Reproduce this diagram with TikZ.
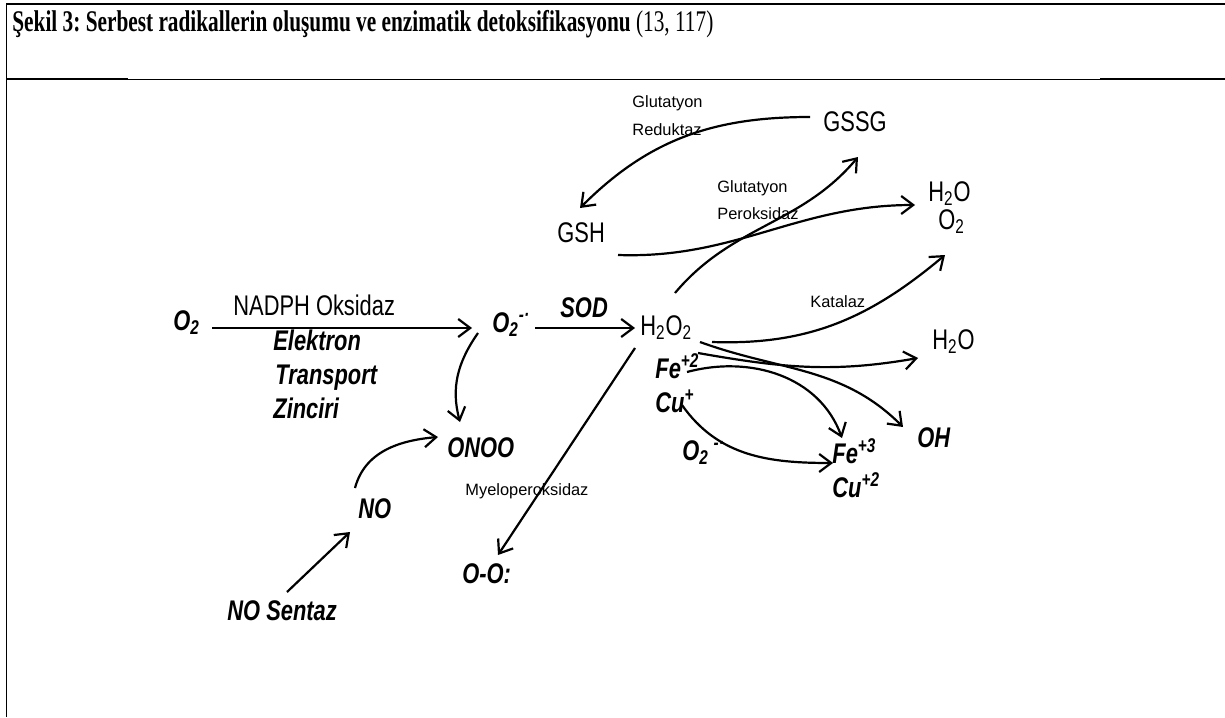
\documentclass[tikz,border=0pt]{standalone}
\usepackage{fontspec}
\setmainfont{Liberation Serif}[FakeStretch=0.71]
\setsansfont{Liberation Sans}[FakeStretch=0.77]
\newfontfamily\enzymefont{Liberation Sans}
\usetikzlibrary{arrows.meta}
\frenchspacing
\tikzset{%
  >={Straight Barb[length=6pt,width=9pt]},
  % Specifications for style of nodes:
      formula/.style = {inner sep=0pt, anchor=base west,
                        font=\sffamily\fontsize{14.2}{16}\selectfont},
      species/.style = {formula,
                        font=\sffamily\bfseries\itshape\fontsize{14.2}{16}\selectfont},
       enzyme/.style = {formula, font=\enzymefont\fontsize{8.2}{10}\selectfont},
     reaction/.style = {->, line width=1.1pt},
    cellRule/.style = {line width=0.35pt},
}

\begin{document}
\begin{tikzpicture}[x=0.5pt, y=-0.5pt]
  \useasboundingbox (0,0) rectangle (1225,717);

  % frame of the table cell
  \draw[line width=0.85pt] (6,4) -- (1225,4);
  \draw[line width=0.65pt] (6.5,4) -- (6.5,717);
  \draw[cellRule] (6.5,79) -- (1225,79);
  \draw[line width=1pt] (6.5,79) -- (128,79);
  \draw[line width=1pt] (1100,79) -- (1225,79);

  \node (title) [anchor=base west, inner sep=0pt, font=\fontsize{15}{17}\selectfont] at (12,32)
        {\textbf{Şekil 3: Serbest radikallerin oluşumu ve enzimatik detoksifikasyonu} (13, 117)};

  % Specification of nodes (position, etc.)
  \node (o2)         [species] at (173,330) {O\textsubscript{2}};
  \node (nadphOx)    [formula] at (233,315) {NADPH Oksidaz};
  \node (elektron)   [species] at (273,350) {Elektron};
  \node (transport)  [species] at (275,384) {Transport};
  \node (zinciri)    [species] at (273,418) {Zinciri};
  \node (superoxide) [species] at (492,332) {O\textsubscript{2}\textsuperscript{-·}};
  \node (sod)        [species] at (560,317) {SOD};
  \node (h2o2)       [formula] at (640,335) {H\textsubscript{2}O\textsubscript{2}};
  \node (onoo)       [species] at (447,457) {ONOO};
  \node (no)         [species] at (358,518) {NO};
  \node (noSentaz)   [species] at (227,620) {NO Sentaz};
  \node (myeloPer)   [enzyme]  at (465,495) {Myeloperoksidaz};
  \node (oo)         [species] at (462,583) {O-O:};

  \node (gssg)       [formula] at (823,132) {GSSG};
  \node (gsh)        [formula] at (557,242) {GSH};
  \node (glutRed)    [enzyme]  at (632,108) {Glutatyon};
  \node (reduktaz)   [enzyme]  at (632,135) {Reduktaz};
  \node (glutPer)    [enzyme]  at (717,192) {Glutatyon};
  \node (peroksidaz) [enzyme]  at (717,219) {Peroksidaz};
  \node (h2oTop)     [formula] at (928,201) {H\textsubscript{2}O};
  \node (o2Top)      [formula] at (938,229) {O\textsubscript{2}};
  \node (katalaz)    [enzyme]  at (810,307) {Katalaz};

  \node (h2oRight)   [formula] at (932,349) {H\textsubscript{2}O};
  \node (oh)         [species] at (917,447) {OH};
  \node (fe2)        [species] at (655,378) {Fe\textsuperscript{+2}};
  \node (cu1)        [species] at (655,412) {Cu\textsuperscript{+}};
  \node (o2Low)      [species] at (682,460) {O\textsubscript{2}\,\textsuperscript{-·}};
  \node (fe3)        [species] at (832,463) {Fe\textsuperscript{+3}};
  \node (cu2)        [species] at (832,497) {Cu\textsuperscript{+2}};

  % Specification of lines between nodes specified above
  \draw[reaction] ([shift={(39,-2)}]o2.base west) -- ([shift={(-20,-4)}]superoxide.base west);
  \draw[reaction] ([shift={(43,-4)}]superoxide.base west) -- ([shift={(-5,-7)}]h2o2.base west);
  \draw[reaction] ([shift={(-14,1)}]superoxide.base west)
                  to[out=235,in=105] ([shift={(13,-35)}]onoo.base west);
  \draw[reaction] ([shift={(-3,-30)}]no.base west)
                  to[out=75,in=185] ([shift={(-9,-20)}]onoo.base west);
  \draw[reaction] ([shift={(60,-28)}]noSentaz.base west) -- ([shift={(-8,14)}]no.base west);
  \draw[reaction] ([shift={(-5,13)}]h2o2.base west) -- ([shift={(36,-28)}]oo.base west);

  \draw[reaction] ([shift={(35,-42)}]h2o2.base west)
                  to[out=50,in=230] ([shift={(35,25)}]gssg.base west);
  \draw[reaction] ([shift={(61,13)}]gsh.base west)
                  to[out=-2,in=180] ([shift={(-13,4)}]h2oTop.base west);
  \draw[reaction] ([shift={(-13,-15)}]gssg.base west)
                  to[out=180,in=45] ([shift={(23,-34)}]gsh.base west);
  \draw[reaction] ([shift={(72,7)}]h2o2.base west)
                  to[out=-2,in=220] ([shift={(7,26)}]o2Top.base west);

  \draw[reaction] ([shift={(58,18)}]h2o2.base west)
                  to[out=-10,in=190] ([shift={(-14,9)}]h2oRight.base west);
  \draw[reaction] ([shift={(60,7)}]h2o2.base west)
                  to[out=-20,in=135] ([shift={(-14,-20)}]oh.base west);
  \draw[reaction] ([shift={(32,-6)}]fe2.base west)
                  to[out=15,in=110] ([shift={(10,-25)}]fe3.base west);
  \draw[reaction] ([shift={(27,-7)}]cu1.base west)
                  to[out=-55,in=180] ([shift={(1,0)}]fe3.base west);
\end{tikzpicture}
\end{document}
